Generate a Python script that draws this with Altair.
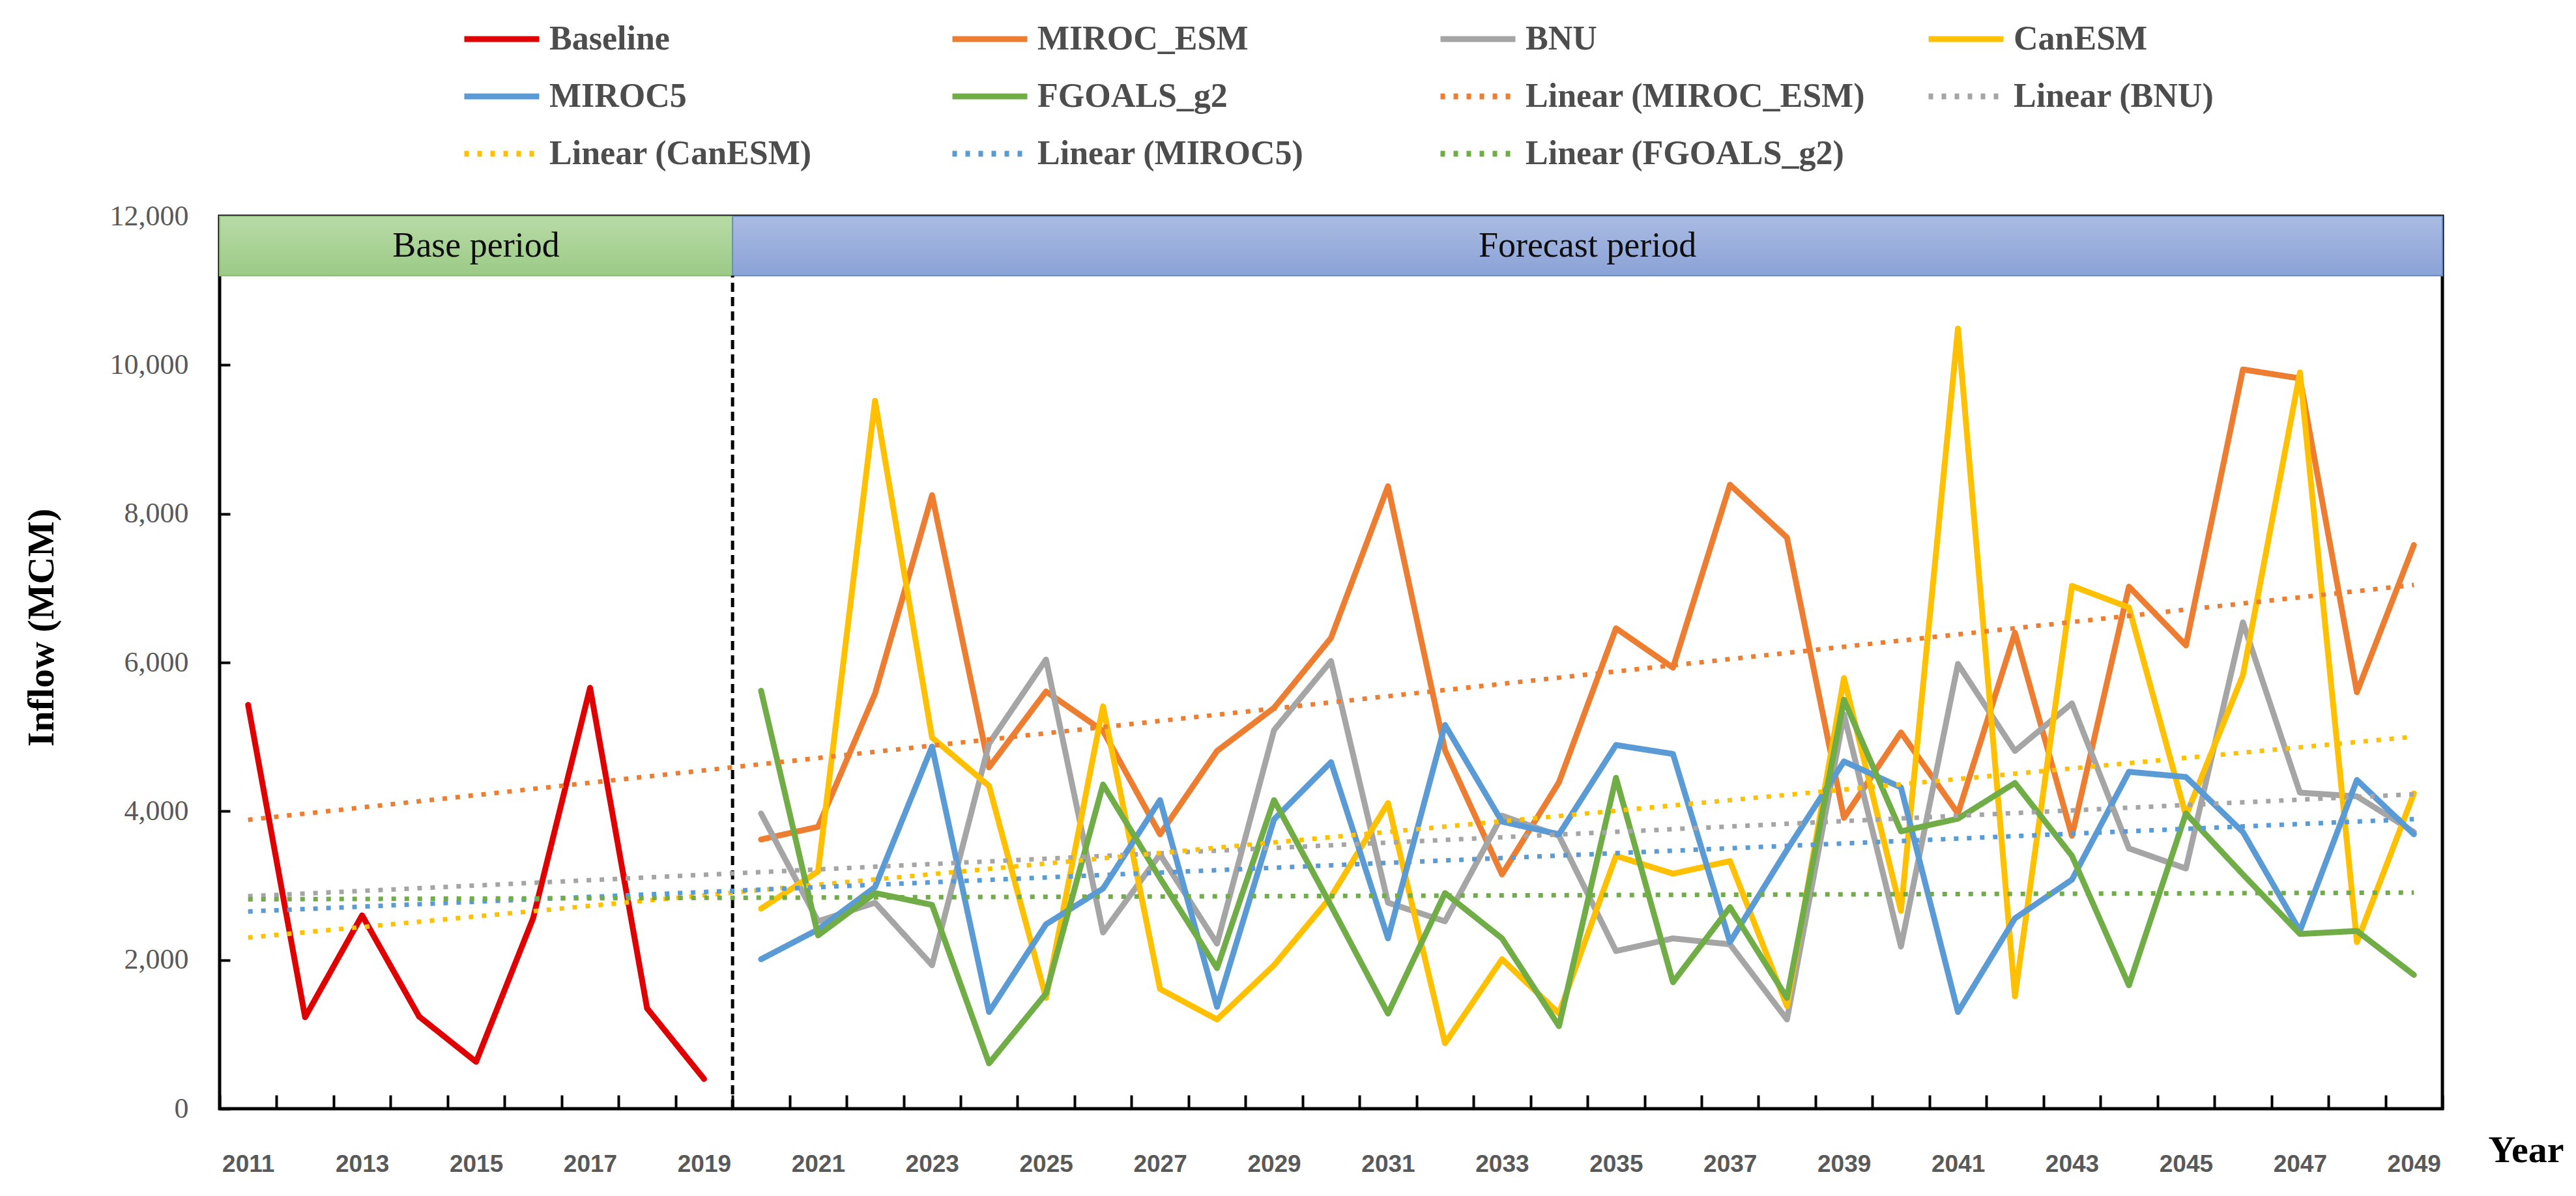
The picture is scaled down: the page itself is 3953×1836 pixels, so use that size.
import altair as alt
import pandas as pd

# ---------------- data ----------------
years_base = list(range(2011, 2020))
baseline = [5430, 1230, 2600, 1240, 630, 2560, 5660, 1350, 400]

years_fc = list(range(2020, 2050))
miroc_esm = [3620, 3790, 5580, 8250, 4590, 5610, 5080, 3690, 4810, 5390,
             6330, 8370, 4820, 3150, 4390, 6460, 5930, 8390, 7680, 3910,
             5060, 3970, 6400, 3670, 7020, 6230, 9940, 9820, 5600, 7580]
bnu = [3970, 2520, 2770, 1930, 4910, 6040, 2370, 3420, 2220, 5090,
       6020, 2770, 2520, 3940, 3670, 2120, 2290, 2210, 1200, 5300,
       2180, 5980, 4810, 5450, 3500, 3230, 6540, 4250, 4200, 3720]
canesm = [2690, 3190, 9520, 4990, 4340, 1490, 5410, 1610, 1200, 1930,
          2850, 4110, 880, 2010, 1280, 3400, 3160, 3330, 1380, 5790,
          2660, 10490, 1510, 7030, 6740, 3940, 5830, 9900, 2240, 4240]
miroc5 = [2010, 2410, 2980, 4870, 1300, 2480, 2960, 4150, 1370, 3890,
          4660, 2290, 5160, 3860, 3690, 4890, 4770, 2240, 3480, 4670,
          4320, 1300, 2560, 3080, 4530, 4460, 3720, 2390, 4420, 3690]
fgoals = [5620, 2330, 2900, 2740, 610, 1550, 4360, 3100, 1890, 4150,
          2730, 1280, 2900, 2290, 1110, 4450, 1700, 2710, 1490, 5500,
          3730, 3900, 4380, 3400, 1660, 3970, 3150, 2350, 2390, 1800]

series_names = ["Baseline", "MIROC_ESM", "BNU", "CanESM", "MIROC5", "FGOALS_g2"]
series_colors = ["#e00000", "#ed7d31", "#a5a5a5", "#ffc000", "#5b9bd5", "#70ad47"]
model_names = series_names[1:]
trend_names = ["Linear (" + n + ")" for n in model_names]

year_ticks = list(range(2011, 2050))
y_ticks = [0, 2000, 4000, 6000, 8000, 10000, 12000]

banner_labels = ["Base period", "Forecast period"]
banner_start = [2010.5, 2019.5]
banner_end = [2019.5, 2049.5]
banner_low = 11200
banner_high = 12000
divider_year = 2019.5

# ---------------- tables ----------------
rows = [{"series": "Baseline", "year": y, "inflow": v} for y, v in zip(years_base, baseline)]
for name, vals in zip(model_names, [miroc_esm, bnu, canesm, miroc5, fgoals]):
    rows += [{"series": name, "year": y, "inflow": v} for y, v in zip(years_fc, vals)]
df = pd.DataFrame(rows)

banner_df = pd.DataFrame({
    "label": banner_labels, "start": banner_start, "end": banner_end,
    "low": [banner_low] * 2, "high": [banner_high] * 2,
})
divider_df = pd.DataFrame({"year": [divider_year], "y0": [0], "y1": [banner_low]})

boundaries = [y - 0.5 for y in year_ticks] + [year_ticks[-1] + 0.5]

W, H = 3411, 1370
half_band = W / len(year_ticks) / 2

legend_domain = series_names + trend_names
legend_colors = series_colors + series_colors[1:]
legend_dashes = [[1, 0]] * len(series_names) + [[7, 13]] * len(trend_names)

xscale = alt.Scale(domain=[boundaries[0], boundaries[-1]], nice=False, zero=False)
yscale = alt.Scale(domain=[0, 12000], nice=False)

xaxis = alt.Axis(
    values=boundaries,
    labelExpr="((datum.value + 0.5) % 2 == 1 && datum.value < 2049) ? format(datum.value + 0.5, 'd') : ''",
    labelOffset=half_band, labelFlush=False, labelOverlap=False, labelBound=False,
    tickSize=21, tickWidth=4, tickColor="black", offset=-21, labelPadding=67,
    labelFont="Liberation Sans", labelFontWeight="bold", labelFontSize=37, labelColor="#595959",
    domain=False, grid=False,
    title="Year", titleFont="Liberation Serif", titleFontSize=58, titleFontWeight="bold",
    titleColor="black", titleX=3539, titleY=102, titleAlign="center", titleBaseline="alphabetic",
)
yaxis = alt.Axis(
    values=y_ticks, format=",.0f",
    tickSize=16, tickWidth=4, tickColor="black", offset=-16, labelPadding=48,
    labelFont="Liberation Serif", labelFontSize=44, labelColor="#595959",
    domain=False, grid=False,
    title="Inflow (MCM)", titleFont="Liberation Serif", titleFontSize=58, titleFontWeight="bold",
    titleColor="black", titleX=-289, titleY=631, titleAngle=-90, titleAlign="center",
    titleBaseline="middle",
)

legend = alt.Legend(
    orient="none", legendX=371, legendY=-334, columns=4, direction="horizontal",
    symbolType="stroke", symbolSize=13225, symbolStrokeWidth=9,
    labelFont="Liberation Serif", labelFontSize=52, labelFontWeight="bold", labelColor="#4d4d4d",
    labelLimit=1000, labelOffset=11, gridAlign="all", columnPadding=78, rowPadding=-23,
    title=None, padding=0,
)
color_scale = alt.Scale(domain=legend_domain, range=legend_colors)
dash_scale = alt.Scale(domain=legend_domain, range=legend_dashes)

green_grad = alt.Gradient(gradient="linear", x1=0, x2=0, y1=0, y2=1,
                          stops=[alt.GradientStop(color="#b8dba7", offset=0),
                                 alt.GradientStop(color="#9cca86", offset=1)])
blue_grad = alt.Gradient(gradient="linear", x1=0, x2=0, y1=0, y2=1,
                         stops=[alt.GradientStop(color="#aabbe2", offset=0),
                                alt.GradientStop(color="#8aa2d6", offset=1)])

base = alt.Chart(banner_df)
banner_green = base.transform_filter("datum.label == 'Base period'").mark_rect(
    fill=green_grad, stroke="#8cbd74", strokeWidth=2
).encode(x=alt.X("start:Q", scale=xscale), x2="end", y=alt.Y("low:Q", scale=yscale), y2="high")
banner_blue = base.transform_filter("datum.label == 'Forecast period'").mark_rect(
    fill=blue_grad, stroke="#6a8cc6", strokeWidth=2
).encode(x="start:Q", x2="end", y="low:Q", y2="high")
banner_text = base.transform_calculate(
    mid="(datum.start + datum.end) / 2", ymid="(datum.low + datum.high) / 2"
).mark_text(font="Liberation Serif", fontSize=54, color="#0d0d0d", baseline="middle", align="center").encode(
    x="mid:Q", y="ymid:Q", text="label:N")

divider = alt.Chart(divider_df).mark_rule(strokeDash=[14, 8], strokeWidth=5, color="black").encode(
    x="year:Q", y="y0:Q", y2="y1")

lines = alt.Chart(df).mark_line(strokeWidth=9, strokeJoin="round", strokeCap="round").encode(
    x=alt.X("year:Q", scale=xscale, axis=xaxis),
    y=alt.Y("inflow:Q", scale=yscale, axis=yaxis),
    color=alt.Color("series:N", scale=color_scale, legend=legend),
    strokeDash=alt.StrokeDash("series:N", scale=dash_scale, legend=legend),
)

trends = alt.Chart(df).transform_filter("datum.series != 'Baseline'").transform_regression(
    "year", "inflow", groupby=["series"], extent=[2011, 2049]
).transform_calculate(series="'Linear (' + datum.series + ')'").mark_line(strokeWidth=7, strokeCap="butt").encode(
    x="year:Q", y="inflow:Q",
    color=alt.Color("series:N", scale=color_scale, legend=legend),
    strokeDash=alt.StrokeDash("series:N", scale=dash_scale, legend=legend),
)

chart = alt.layer(banner_green, banner_blue, banner_text, divider, lines, trends).properties(
    width=W, height=H,
    autosize=alt.AutoSizeParams(type="none"),
    padding={"left": 329, "top": 324, "right": 190, "bottom": 120},
    background="white",
).configure_view(stroke="black", strokeWidth=5)

chart.save("out.html", embed_options={"renderer": "svg", "actions": False})
